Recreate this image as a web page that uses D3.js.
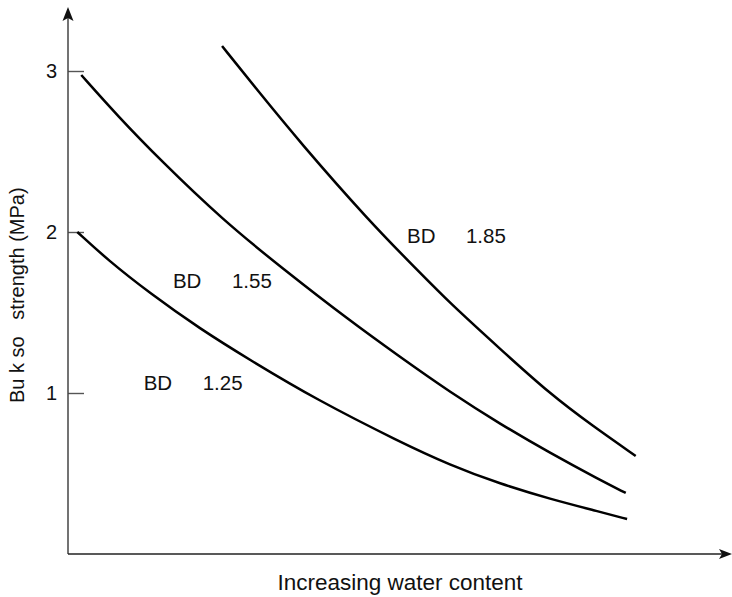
<!DOCTYPE html>
<html>
<head>
<meta charset="utf-8">
<script src="https://cdn.jsdelivr.net/npm/d3@7"></script>
<style>
  html, body { margin: 0; padding: 0; background: #fff; }
  svg { display: block; font-family: Arial, "Liberation Sans", sans-serif; }
  text { white-space: pre; }
</style>
</head>
<body>
<svg id="chart" width="732" height="597"></svg>
<script>
// Bulk density classes (g/cm3), one curve each
const densities = [1.25, 1.55, 1.85];

// Relative water content along the (unlabelled) x axis, 0-100
const water125 = [1.4, 6.0, 12.3, 19.9, 27.4, 37.5, 50.0, 57.5, 65.1, 72.6, 80.1, 84.2];
const strength125 = [2.0, 1.826, 1.621, 1.398, 1.205, 0.957, 0.696, 0.553, 0.435, 0.342, 0.262, 0.217];

const water155 = [2.0, 7.5, 13.9, 23.3, 32.4, 42.5, 50.0, 57.5, 65.1, 72.6, 80.1, 84.0];
const strength155 = [2.975, 2.72, 2.447, 2.075, 1.77, 1.447, 1.224, 1.006, 0.807, 0.627, 0.46, 0.379];

const water185 = [23.2, 28.5, 34.9, 45.2, 52.6, 57.5, 65.1, 72.6, 79.0, 85.5];
const strength185 = [3.155, 2.882, 2.559, 2.075, 1.764, 1.559, 1.273, 0.994, 0.796, 0.609];

const yTicks = [1, 2, 3];
const xTitle = "Increasing water content";
const yTitle = "Bu k so   strength (MPa)";

const series = [
  { bd: densities[0], water: water125, strength: strength125 },
  { bd: densities[1], water: water155, strength: strength155 },
  { bd: densities[2], water: water185, strength: strength185 }
];

const svg = d3.select("#chart");
const x0 = 68, x1 = 732, y0 = 554, yTop = 7;

const x = d3.scaleLinear().domain([0, 100]).range([x0, x1]);
const y = d3.scaleLinear().domain([0, 3]).range([y0, 71]);

// Y axis ticks pointing inward, labels on the left
const yAxis = d3.axisLeft(y).tickValues(yTicks).tickSize(-16).tickPadding(11).tickFormat(d3.format("d"));
const gy = svg.append("g").attr("transform", `translate(${x0},0)`).call(yAxis);
gy.select(".domain").remove();
gy.selectAll(".tick line").attr("stroke", "#555").attr("stroke-width", 1.4);
gy.selectAll(".tick text").attr("font-size", 20).attr("fill", "#111")
  .attr("font-family", "Arial, 'Liberation Sans', sans-serif");

// Axis lines with arrowheads
svg.append("line").attr("x1", x0).attr("y1", y0).attr("x2", x0).attr("y2", yTop + 10)
  .attr("stroke", "#444").attr("stroke-width", 1.5);
svg.append("path")
  .attr("d", `M${x0},${yTop} L${x0 - 5.5},${yTop + 14} L${x0},${yTop + 11} L${x0 + 5.5},${yTop + 14} Z`)
  .attr("fill", "#111");
svg.append("line").attr("x1", x0).attr("y1", y0).attr("x2", x1 - 8).attr("y2", y0)
  .attr("stroke", "#222").attr("stroke-width", 1.5);
svg.append("path")
  .attr("d", `M${x1},${y0} L${x1 - 13},${y0 - 5} L${x1 - 10},${y0} L${x1 - 13},${y0 + 5} Z`)
  .attr("fill", "#111");

// Curves, smoothed through the read-off points
const line = d3.line()
  .x(d => x(d[0]))
  .y(d => y(d[1]))
  .curve(d3.curveBasis);

svg.append("g").selectAll("path")
  .data(series)
  .join("path")
  .attr("d", s => line(d3.zip(s.water, s.strength)))
  .attr("fill", "none")
  .attr("stroke", "#000")
  .attr("stroke-width", 2.5)
  .attr("stroke-linecap", "butt");

// Curve labels, anchored in data units
const labelAnchors = [
  { bd: densities[0], wx: 11.4, sy: 1.019 },
  { bd: densities[1], wx: 15.8, sy: 1.652 },
  { bd: densities[2], wx: 51.05, sy: 1.932 }
];
const lg = svg.append("g").attr("font-size", 20.5).attr("fill", "#111");
labelAnchors.forEach(a => {
  lg.append("text").attr("x", x(a.wx)).attr("y", y(a.sy)).text("BD");
  lg.append("text").attr("x", x(a.wx) + 59).attr("y", y(a.sy)).text(d3.format(".2f")(a.bd));
});

// Axis titles
svg.append("text")
  .attr("x", 400).attr("y", 590)
  .attr("text-anchor", "middle")
  .attr("font-size", 22.5)
  .attr("fill", "#111")
  .text(xTitle);

svg.append("text")
  .attr("transform", "translate(24,403) rotate(-90)")
  .attr("text-anchor", "start")
  .attr("font-size", 20)
  .attr("fill", "#111")
  .text(yTitle);
</script>
</body>
</html>
